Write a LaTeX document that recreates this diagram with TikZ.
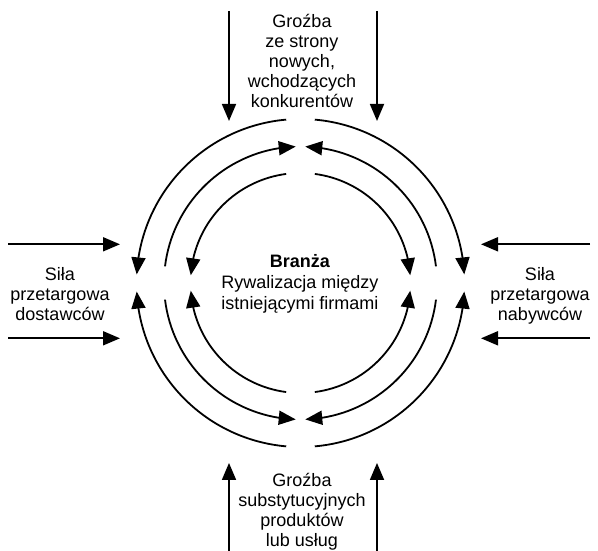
\documentclass[tikz,border=0pt]{standalone}
\usepackage{fontspec}
\setmainfont{Liberation Sans}
\usetikzlibrary{arrows.meta,bending}
\begin{document}
\begin{tikzpicture}[x=1pt,y=1pt,
  arr/.style={line width=1.8pt,-{Triangle[length=17pt,width=14pt]}},
  lbl/.style={align=center,font=\fontsize{18pt}{20pt}\selectfont,inner sep=0pt,anchor=base}]
\useasboundingbox (0,0) rectangle (598,551);
\coordinate (C) at (300.5,268);
% outer ring (r=164): arrows toward left/right
\draw[arr] ([shift={(95:164)}]C) arc[start angle=95,end angle=177,radius=164];
\draw[arr] ([shift={(85:164)}]C) arc[start angle=85,end angle=3,radius=164];
\draw[arr] ([shift={(265:164)}]C) arc[start angle=265,end angle=183,radius=164];
\draw[arr] ([shift={(275:164)}]C) arc[start angle=275,end angle=357,radius=164];
% middle ring (r=136.5): arrows toward top/bottom
\draw[arr] ([shift={(173:136.5)}]C) arc[start angle=173,end angle=92,radius=136.5];
\draw[arr] ([shift={(7:136.5)}]C) arc[start angle=7,end angle=88,radius=136.5];
\draw[arr] ([shift={(187:136.5)}]C) arc[start angle=187,end angle=268,radius=136.5];
\draw[arr] ([shift={(353:136.5)}]C) arc[start angle=353,end angle=272,radius=136.5];
% inner ring (r=110): arrows toward left/right
\draw[arr] ([shift={(97.5:110)}]C) arc[start angle=97.5,end angle=176,radius=110];
\draw[arr] ([shift={(82.5:110)}]C) arc[start angle=82.5,end angle=4,radius=110];
\draw[arr] ([shift={(262.5:110)}]C) arc[start angle=262.5,end angle=184,radius=110];
\draw[arr] ([shift={(277.5:110)}]C) arc[start angle=277.5,end angle=356,radius=110];
% straight arrows
\coordinate (tl0) at (229,540); \coordinate (tl1) at (229,430);
\coordinate (tr0) at (377,540); \coordinate (tr1) at (377,430);
\coordinate (bl0) at (229,-2); \coordinate (bl1) at (229,88);
\coordinate (br0) at (377,-2); \coordinate (br1) at (377,88);
\coordinate (lt0) at (8,306.7); \coordinate (lt1) at (120,306.7);
\coordinate (lb0) at (8,212.7); \coordinate (lb1) at (120,212.7);
\coordinate (rt0) at (590,306.7); \coordinate (rt1) at (481,306.7);
\coordinate (rb0) at (590,212.7); \coordinate (rb1) at (481,212.7);
\foreach \a/\b in {tl0/tl1,tr0/tr1,bl0/bl1,br0/br1,lt0/lt1,lb0/lb1,rt0/rt1,rb0/rb1}
  \draw[arr] (\a) -- (\b);
% labels (anchor=base is the last line's baseline)
\node[lbl] (top) at (302,443) {Groźba\\ze strony\\nowych,\\wchodzących\\konkurentów};
\node[lbl] (bottom) at (302,4) {Groźba\\substytucyjnych\\produktów\\lub usług};
\node[lbl] (left) at (60,230) {Siła\\przetargowa\\dostawców};
\node[lbl] (right) at (540,230) {Siła\\przetargowa\\nabywców};
\node[lbl,font=\fontsize{18pt}{21pt}\selectfont] (center) at (300,241) {\textbf{Branża}\\Rywalizacja między\\istniejącymi firmami};
\end{tikzpicture}
\end{document}
